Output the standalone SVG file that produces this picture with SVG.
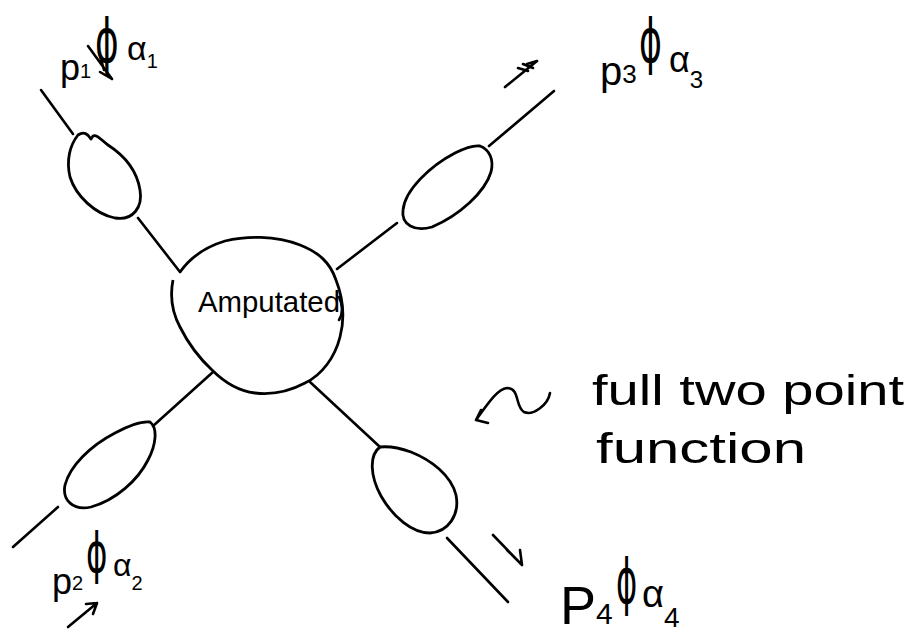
<svg xmlns="http://www.w3.org/2000/svg" width="906" height="634" viewBox="0 0 906 634">
<style>
.ln{fill:none;stroke:#000;stroke-width:2.6;stroke-linecap:round;stroke-linejoin:round}
.bl{fill:none;stroke:#000;stroke-width:2.8;stroke-linejoin:round}
.t{font-family:"Liberation Sans","DejaVu Sans",sans-serif;fill:#000}
.ph{font-family:"DejaVu Sans","Liberation Sans",sans-serif;fill:#000}
</style>
<rect width="906" height="634" fill="#fff"/>
<g id="central">
<path class="bl" d="M180,272 C190,258 205,247 225,241 C245,236 275,235 300,245 C318,252 330,262 336,280 C343,298 345,318 340,337 C335,357 322,375 305,383 C290,391 272,395 255,393 C238,391 224,382 212,370 C198,357 188,343 180,327 C172,312 170,295 173,280"/>
<path class="ln" d="M339,297 C343,305 343,314 339,320"/>
<text class="t" x="198" y="312" font-size="30" textLength="142" lengthAdjust="spacingAndGlyphs">Amputated</text>
</g>
<g id="blob1">
<path class="bl" d="M78,135 C70,145 66,160 70,177 C76,196 95,214 115,218 C133,221 143,207 140,190 C137,171 125,156 108,145 C101,140 97,134 93,136 L91,139 C88,134 84,131 78,135 Z"/>
</g>
<g id="blob3">
<path class="bl" d="M480,146 C490,150 494,160 491,172 C485,192 460,215 432,227 C415,232 401,225 403,210 C405,190 430,166 455,153 C465,148 473,145 480,146 Z"/>
</g>
<g id="blob2">
<path class="bl" d="M150,422 C158,428 156,445 148,460 C138,480 116,500 91,507 C73,511 62,500 65,485 C70,466 90,446 115,433 C130,425 142,421 150,422 Z"/>
</g>
<g id="blob4">
<path class="bl" d="M380,447 C369,455 370,476 381,496 C393,517 412,533 430,533 C448,532 460,515 456,495 C451,475 431,460 411,452 C400,448 390,446 380,447 Z"/>
</g>
<g id="connectors">
<path class="ln" d="M41,90 L73,134"/>
<path class="ln" d="M138,218 L180,272"/>
<path class="ln" d="M337,269 L397,223"/>
<path class="ln" d="M489,146 L554,91"/>
<path class="ln" d="M213,372 L153,426"/>
<path class="ln" d="M58,507 L13,547"/>
<path class="ln" d="M310,382 L380,447"/>
<path class="ln" d="M447,538 L508,602"/>
</g>
<g id="arrows">
<path class="ln" d="M88,46 L112,79 M99,52 L104,70 M112,79 L100,72"/>
<path class="ln" d="M505,87 L537,61 M518,68 L528,71 M523,64 L533,68 M537,61 L527,64"/>
<path class="ln" d="M68,627 L97,603 M86,604 L97,603 L93,614"/>
<path class="ln" d="M493,535 L522,565 M507,550 L522,565 L520,550"/>
<path class="ln" d="M550,393 C548,405 533,416 524,412 C515,407 520,388 507,388 C497,389 487,405 476,420 M476,420 L481,410 M476,420 L488,423"/>
</g>
<g id="label-p1">
<text class="t" x="60" y="80" font-size="36">p<tspan font-size="20" dy="-2">1</tspan></text>
<text class="ph" transform="translate(95,62) scale(0.6,1)" font-size="60">ϕ</text>
<text class="t" x="127" y="60" font-size="34">α<tspan font-size="20" dy="8">1</tspan></text>
</g>
<g id="label-p3">
<text class="t" x="600" y="85" font-size="40">p<tspan font-size="26" dy="-2">3</tspan></text>
<text class="ph" transform="translate(639,62) scale(0.58,1)" font-size="60">ϕ</text>
<text class="t" x="669" y="72" font-size="36">α<tspan font-size="24" dy="16">3</tspan></text>
</g>
<g id="label-p2">
<text class="t" x="52" y="594" font-size="36">p<tspan font-size="20" dy="-4">2</tspan></text>
<text class="ph" transform="translate(86,572) scale(0.58,1)" font-size="56">ϕ</text>
<text class="t" x="113" y="576" font-size="32">α<tspan font-size="20" dy="14">2</tspan></text>
</g>
<g id="label-p4">
<text class="t" x="560" y="624" font-size="54">P<tspan font-size="30">4</tspan></text>
<text class="ph" transform="translate(616,603) scale(0.52,1)" font-size="62">ϕ</text>
<text class="t" x="642" y="607" font-size="38">α<tspan font-size="28" dy="20">4</tspan></text>
</g>
<g id="note">
<text class="t" x="592" y="405" font-size="42" textLength="312" lengthAdjust="spacingAndGlyphs">full two point</text>
<text class="t" x="596" y="463" font-size="42" textLength="210" lengthAdjust="spacingAndGlyphs">function</text>
</g>
</svg>
